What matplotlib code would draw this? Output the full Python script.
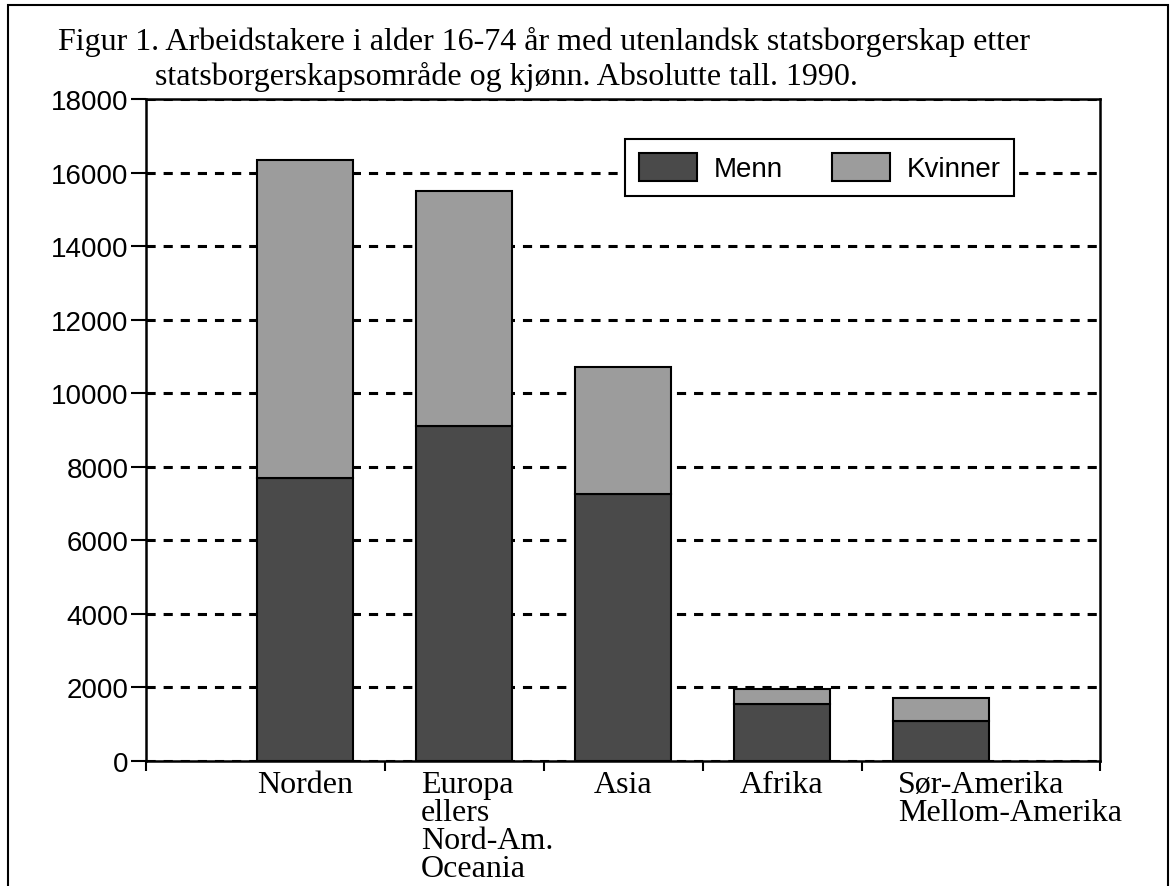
import matplotlib
matplotlib.use('Agg')
import matplotlib.pyplot as plt
from matplotlib.patches import Rectangle
import numpy as np

categories = ['Norden', 'Europa\nellers\nNord-Am.\nOceania', 'Asia', 'Afrika',
              'Sør-Amerika\nMellom-Amerika']
menn = [7700, 9100, 7250, 1550, 1100]
kvinner = [8650, 6400, 3450, 400, 600]
yticks = list(range(0, 18001, 2000))
title1 = 'Figur 1. Arbeidstakere i alder 16-74 år med utenlandsk statsborgerskap etter'
title2 = 'statsborgerskapsområde og kjønn. Absolutte tall. 1990.'

W, H = 1173, 887
serif = 'Liberation Serif'
sans = 'Liberation Sans'

fig = plt.figure(figsize=(W / 100, H / 100), dpi=100)
fig.patches.append(Rectangle((8 / W, -0.05), (1168 - 8) / W, 1.05 - 6 / H,
                             transform=fig.transFigure, fill=False,
                             edgecolor='black', linewidth=1.5))

ax = fig.add_axes([146 / W, 1 - 762 / H, (1100 - 146) / W, (762 - 100) / H])
x = np.arange(len(categories))
ax.bar(x, menn, width=0.6, color='#4a4a4a', edgecolor='black', linewidth=1.5,
       label='Menn', zorder=3)
ax.bar(x, kvinner, width=0.6, bottom=menn, color='#9c9c9c', edgecolor='black',
       linewidth=1.5, label='Kvinner', zorder=3)

ax.set_xlim(-1, 5)
ax.set_ylim(0, 18000)
ax.set_yticks(yticks)
ax.set_yticklabels([str(v) for v in yticks], fontname=sans, fontsize=20)
ax.set_xticks([-1, 0.5, 1.5, 2.5, 3.5, 5])
ax.set_xticklabels([])
ax.tick_params(axis='y', direction='out', length=11, width=1.5, pad=1.5)
ax.tick_params(axis='x', direction='out', length=7, width=1.5)
for sp in ax.spines.values():
    sp.set_linewidth(1.8)
ax.yaxis.grid(True, linestyle=(0, (3, 2.6)), linewidth=2.2, color='black', zorder=1)
ax.set_axisbelow(True)

for i, lab in enumerate(categories):
    if '\n' in lab:
        ax.text(i - 0.27, -0.014, lab, transform=ax.get_xaxis_transform(),
                ha='left', va='top', fontname=serif, fontsize=23,
                linespacing=0.95, multialignment='left')
    else:
        ax.text(i, -0.014, lab, transform=ax.get_xaxis_transform(),
                ha='center', va='top', fontname=serif, fontsize=23)

leg = ax.legend(loc='upper left', bbox_to_anchor=(0.502, 0.939), ncol=2,
                prop={'family': sans, 'size': 20}, frameon=True, fancybox=False,
                handlelength=2.1, handleheight=1.15, handletextpad=0.6,
                columnspacing=1.75, borderpad=0.5, borderaxespad=0)
leg.get_frame().set_edgecolor('black')
leg.get_frame().set_linewidth(1.5)
leg.get_frame().set_alpha(1)

fig.text(58 / W, 1 - 42 / H, title1, fontname=serif, fontsize=23, va='center', ha='left')
fig.text(155 / W, 1 - 77 / H, title2, fontname=serif, fontsize=23, va='center', ha='left')

fig.savefig('out.png', dpi=100)
